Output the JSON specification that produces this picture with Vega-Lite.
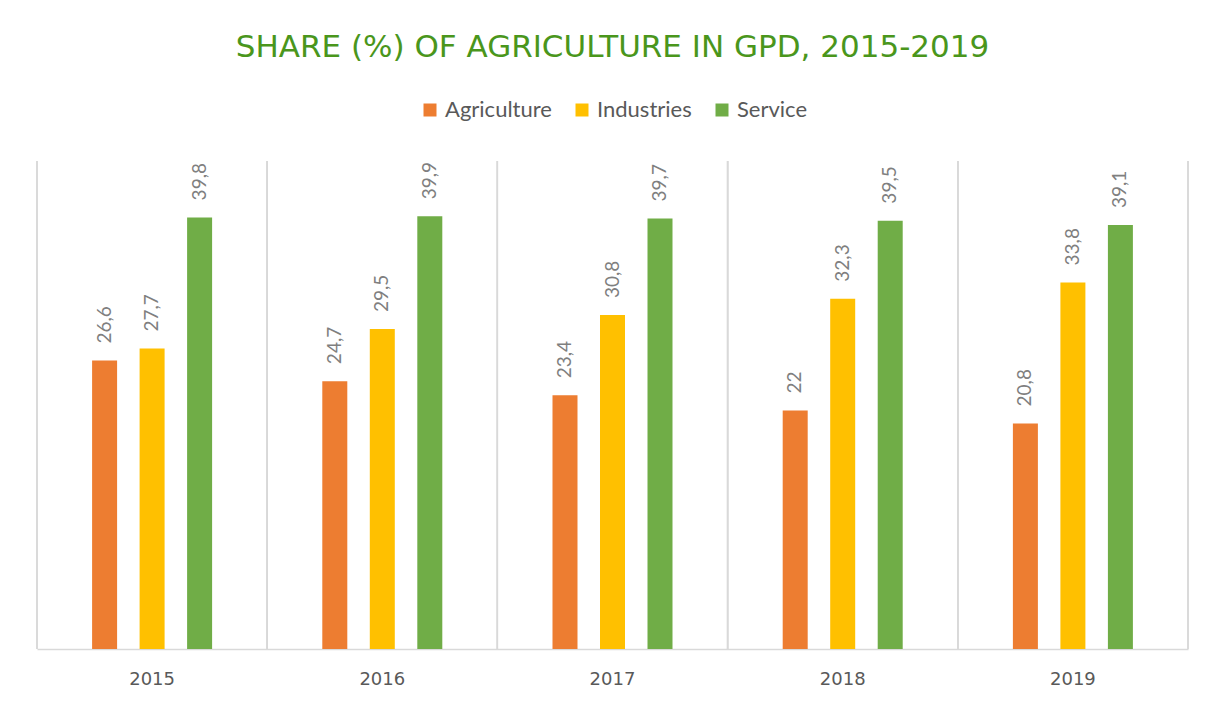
{
  "$schema": "https://vega.github.io/schema/vega-lite/v6.json",
  "autosize": {"type": "none"},
  "width": 1151,
  "height": 488,
  "padding": {"left": 37, "top": 161, "right": 27, "bottom": 53},
  "background": "white",
  "title": {
    "text": "SHARE (%) OF AGRICULTURE IN GPD, 2015-2019",
    "anchor": "middle",
    "font": "DejaVu Sans",
    "fontSize": 31,
    "fontWeight": "normal",
    "color": "#4A961C",
    "offset": 35
  },
  "config": {
    "view": {"stroke": null},
    "locale": {"number": {"decimal": ",", "thousands": ".", "grouping": [3], "currency": ["", " €"]}}
  },
  "data": {
    "values": [
      {"year": "2015", "sector": "Agriculture", "value": 26.6},
      {"year": "2015", "sector": "Industries", "value": 27.7},
      {"year": "2015", "sector": "Service", "value": 39.8},
      {"year": "2016", "sector": "Agriculture", "value": 24.7},
      {"year": "2016", "sector": "Industries", "value": 29.5},
      {"year": "2016", "sector": "Service", "value": 39.9},
      {"year": "2017", "sector": "Agriculture", "value": 23.4},
      {"year": "2017", "sector": "Industries", "value": 30.8},
      {"year": "2017", "sector": "Service", "value": 39.7},
      {"year": "2018", "sector": "Agriculture", "value": 22},
      {"year": "2018", "sector": "Industries", "value": 32.3},
      {"year": "2018", "sector": "Service", "value": 39.5},
      {"year": "2019", "sector": "Agriculture", "value": 20.8},
      {"year": "2019", "sector": "Industries", "value": 33.8},
      {"year": "2019", "sector": "Service", "value": 39.1}
    ]
  },
  "layer": [
    {
      "mark": {"type": "rule", "color": "#d9d9d9", "strokeWidth": 1.3},
      "encoding": {
        "x": {"field": "year", "type": "nominal", "bandPosition": 0, "scale": {"paddingInner": 0, "paddingOuter": 0}}
      }
    },
    {
      "mark": {"type": "rule", "color": "#d9d9d9", "strokeWidth": 1.3},
      "encoding": {
        "x": {"field": "year", "type": "nominal", "bandPosition": 1}
      }
    },
    {
      "mark": {"type": "bar", "width": 25},
      "encoding": {
        "x": {
          "field": "year", "type": "nominal",
          "axis": {
            "title": null, "orient": "bottom", "domainColor": "#d9d9d9", "domainWidth": 1.3,
            "ticks": false, "labelAngle": 0, "labelAlign": "center", "bandPosition": 0.5,
            "labelFont": "DejaVu Sans", "labelFontSize": 18,
            "labelColor": "#595959", "labelPadding": 30, "grid": false
          }
        },
        "xOffset": {
          "field": "sector", "type": "nominal",
          "scale": {"domain": ["Agriculture", "Industries", "Service"], "paddingInner": 0, "paddingOuter": 0.923}
        },
        "y": {"field": "value", "type": "quantitative", "scale": {"domain": [0, 45], "nice": false}, "axis": null},
        "color": {
          "field": "sector", "type": "nominal",
          "scale": {"domain": ["Agriculture", "Industries", "Service"], "range": ["#ED7D31", "#FFC000", "#70AD47"]},
          "legend": {
            "title": null, "orient": "none", "legendX": 382, "legendY": -62, "direction": "horizontal",
            "symbolType": "square", "symbolSize": 169, "symbolStrokeWidth": 0,
            "labelFont": "Lato", "labelFontSize": 22, "labelColor": "#595959",
            "columnPadding": 19, "labelOffset": 4
          }
        }
      }
    },
    {
      "mark": {"type": "text", "angle": 270, "align": "left", "baseline": "middle", "dx": 17, "font": "Lato", "fontSize": 19, "color": "#7F7F7F"},
      "encoding": {
        "x": {"field": "year", "type": "nominal"},
        "xOffset": {"field": "sector", "type": "nominal"},
        "y": {"field": "value", "type": "quantitative"},
        "text": {"field": "value", "type": "quantitative", "format": ".1~f"}
      }
    }
  ]
}
